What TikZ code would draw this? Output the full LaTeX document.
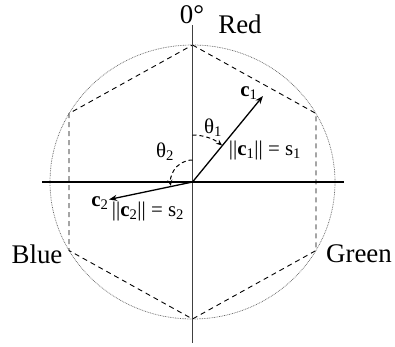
\documentclass[tikz,border=0pt]{standalone}
\usepackage{fontspec}
\setmainfont{Liberation Serif}
\usetikzlibrary{arrows.meta}
\begin{document}
\begin{tikzpicture}[x=1bp,y=-1bp,
  big/.style={font=\fontsize{27}{27}\selectfont, inner sep=0pt},
  lab/.style={font=\fontsize{21}{21}\selectfont, inner sep=0pt},
  hexline/.style={black, line width=0.9bp, dash pattern=on 5bp off 4bp},
  circline/.style={black!60, line width=0.7bp, dash pattern=on 0.8bp off 0.9bp},
  vec/.style={black, line width=1.3bp, -{Stealth[length=8bp,width=6bp]}},
  anglearc/.style={black, line width=1bp, dash pattern=on 4bp off 3bp, -{Stealth[length=6bp,width=5bp]}}]
\useasboundingbox (0,0) rectangle (395,347);
\coordinate (O) at (192.5,182);
% dotted circle
\draw[circline] (O) ellipse [x radius=142.5, y radius=137];
% hexagon
\coordinate (h1) at (192.5,45);
\coordinate (h2) at (316,113.5);
\coordinate (h3) at (316,250.5);
\coordinate (h4) at (192.5,319);
\coordinate (h5) at (69,250.5);
\coordinate (h6) at (69,113.5);
\draw[hexline] (h1) -- (h2) -- (h3) -- (h4) -- (h5) -- (h6) -- cycle;
% axes
\coordinate (vt) at (192.5,25);
\coordinate (vb) at (192.5,343);
\coordinate (hl) at (42,182);
\coordinate (hr) at (344,182);
\draw[black!75, line width=1.3bp] (vt) -- (vb);
\draw[black, line width=1.1bp] (hl) -- (hr);
% vectors
\coordinate (c1tip) at (263,96);
\coordinate (c2tip) at (109,199.5);
\draw[vec] (O) -- (c1tip);
\draw[vec] (O) -- (c2tip);
% angle arcs (y axis points down, so visual angle = -angle)
\draw[anglearc] (192.5,135) arc[start angle=-90, end angle=-51, radius=47];
\draw[anglearc] (192.5,160) arc[start angle=-90, end angle=-190, radius=22];
% labels
\node[big] (zero) at (192,15) {0°};
\node[big] (red) at (240,24) {Red};
\node[big] (blue) at (37,254) {Blue};
\node[big] (green) at (359,254) {Green};
\node[lab] (c1) at (249,93) {\textbf{c}\textsubscript{1}};
\node[lab] (c2) at (100,203) {\textbf{c}\textsubscript{2}};
\node[lab] (t1) at (213,128) {θ\textsubscript{1}};
\node[lab] (t2) at (165,152) {θ\textsubscript{2}};
\node[lab] (n1) at (265,150) {||\textbf{c}\textsubscript{1}|| = s\textsubscript{1}};
\node[lab] (n2) at (148,211) {||\textbf{c}\textsubscript{2}|| = s\textsubscript{2}};
\end{tikzpicture}
\end{document}
